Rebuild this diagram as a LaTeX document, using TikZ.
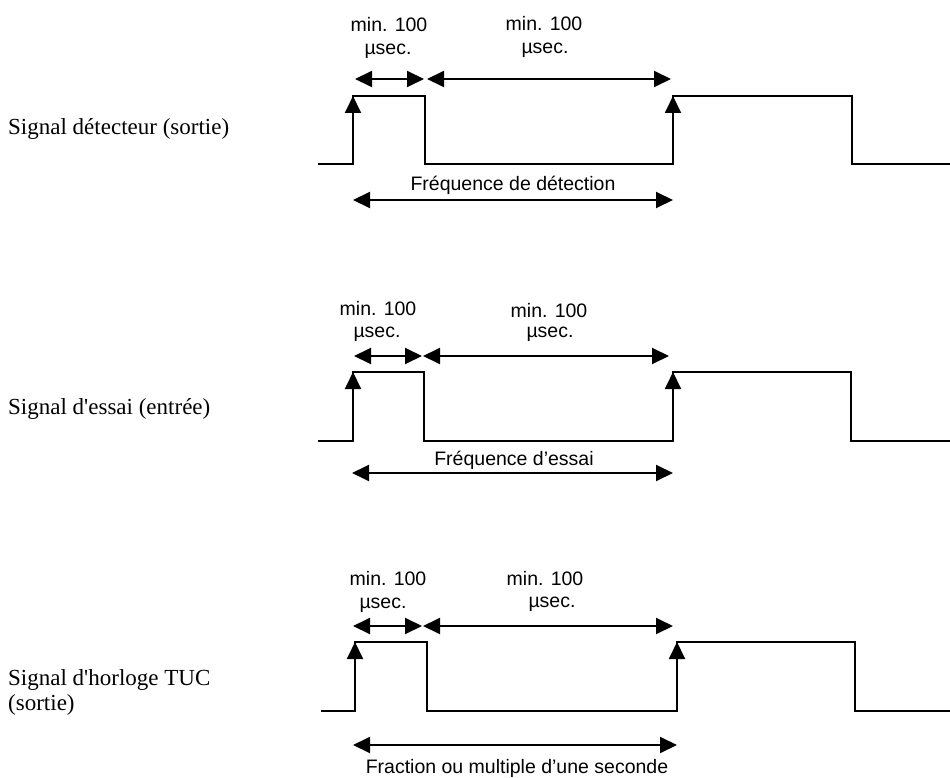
\documentclass[tikz,border=0pt]{standalone}
\usepackage{fontspec}
\setmainfont{Liberation Serif}[Ligatures=TeXOff]
\newfontfamily\lsans{Liberation Sans}
\usetikzlibrary{arrows.meta}
\begin{document}
\begin{tikzpicture}[x=1pt,y=-1pt,
  wave/.style={line width=1.9pt, line join=miter},
  dimarrow/.style={line width=1.9pt, {Triangle[length=17pt,width=16pt]}-{Triangle[length=17pt,width=16pt]}},
  edgearrow/.style={line width=1.9pt, -{Triangle[length=17pt,width=16pt]}},
  lbl/.style={font=\lsans\fontsize{19.5}{22}\selectfont, anchor=base, inner sep=0pt},
  sig/.style={font=\fontsize{23}{25}\selectfont, anchor=base west, inner sep=0pt}]
\useasboundingbox (0,0) rectangle (950,778);

% ---------- Panel 1 ----------
\node[sig] (s1) at (8,135) {Signal détecteur (sortie)};
\coordinate (a0) at (318,164);
\coordinate (a1l) at (353,164); \coordinate (a1h) at (353,96);
\coordinate (a2h) at (425,96);  \coordinate (a2l) at (425,164);
\coordinate (a3l) at (673,164); \coordinate (a3h) at (673,96);
\coordinate (a4h) at (852,96);  \coordinate (a4l) at (852,164);
\coordinate (a5) at (950,164);
\draw[wave] (a0) -- (a1l) -- (a1h) -- (a2h) -- (a2l) -- (a3l) -- (a3h) -- (a4h) -- (a4l) -- (a5);
\draw[edgearrow] (a1l) -- (a1h);
\draw[edgearrow] (a3l) -- (a3h);
\coordinate (at1) at (355,79); \coordinate (at2) at (424,79);
\coordinate (at3) at (427,79); \coordinate (at4) at (671,79);
\draw[dimarrow] (at1) -- (at2);
\draw[dimarrow] (at3) -- (at4);
\coordinate (ab1) at (353,200); \coordinate (ab2) at (673,200);
\draw[dimarrow] (ab1) -- (ab2);
\node[lbl] (m1a) at (389,32) {min. 100};
\node[lbl] (u1a) at (388,55) {µsec.};
\node[lbl] (m1b) at (544,31) {min. 100};
\node[lbl] (u1b) at (545,54) {µsec.};
\node[lbl] (f1) at (513,190) {Fréquence de détection};

% ---------- Panel 2 ----------
\node[sig] (s2) at (8,414) {Signal d'essai (entrée)};
\coordinate (b0) at (318,441);
\coordinate (b1l) at (353,441); \coordinate (b1h) at (353,372);
\coordinate (b2h) at (424,372); \coordinate (b2l) at (424,441);
\coordinate (b3l) at (673,441); \coordinate (b3h) at (673,372);
\coordinate (b4h) at (851,372); \coordinate (b4l) at (851,441);
\coordinate (b5) at (950,441);
\draw[wave] (b0) -- (b1l) -- (b1h) -- (b2h) -- (b2l) -- (b3l) -- (b3h) -- (b4h) -- (b4l) -- (b5);
\draw[edgearrow] (b1l) -- (b1h);
\draw[edgearrow] (b3l) -- (b3h);
\coordinate (bt1) at (354,356); \coordinate (bt2) at (422,356);
\coordinate (bt3) at (423,356); \coordinate (bt4) at (669,356);
\draw[dimarrow] (bt1) -- (bt2);
\draw[dimarrow] (bt3) -- (bt4);
\coordinate (bb1) at (352,473); \coordinate (bb2) at (673,473);
\draw[dimarrow] (bb1) -- (bb2);
\node[lbl] (m2a) at (378,315) {min. 100};
\node[lbl] (u2a) at (377,337) {µsec.};
\node[lbl] (m2b) at (549,317) {min. 100};
\node[lbl] (u2b) at (550,337) {µsec.};
\node[lbl] (f2) at (514,465) {Fréquence d’essai};

% ---------- Panel 3 ----------
\node[sig] (s3) at (8,685) {Signal d'horloge TUC};
\node[sig] (s3b) at (8,710) {(sortie)};
\coordinate (c0) at (321,711);
\coordinate (c1l) at (355,711); \coordinate (c1h) at (355,642);
\coordinate (c2h) at (427,642); \coordinate (c2l) at (427,711);
\coordinate (c3l) at (677,711); \coordinate (c3h) at (677,642);
\coordinate (c4h) at (855,642); \coordinate (c4l) at (855,711);
\coordinate (c5) at (950,711);
\draw[wave] (c0) -- (c1l) -- (c1h) -- (c2h) -- (c2l) -- (c3l) -- (c3h) -- (c4h) -- (c4l) -- (c5);
\draw[edgearrow] (c1l) -- (c1h);
\draw[edgearrow] (c3l) -- (c3h);
\coordinate (ct1) at (353,626); \coordinate (ct2) at (422,626);
\coordinate (ct3) at (423,626); \coordinate (ct4) at (673,626);
\draw[dimarrow] (ct1) -- (ct2);
\draw[dimarrow] (ct3) -- (ct4);
\coordinate (cb1) at (353,745); \coordinate (cb2) at (677,745);
\draw[dimarrow] (cb1) -- (cb2);
\node[lbl] (m3a) at (388,585) {min. 100};
\node[lbl] (u3a) at (383,608) {µsec.};
\node[lbl] (m3b) at (545,585) {min. 100};
\node[lbl] (u3b) at (552,607) {µsec.};
\node[lbl] (f3) at (517,773) {Fraction ou multiple d’une seconde};
\end{tikzpicture}
\end{document}
